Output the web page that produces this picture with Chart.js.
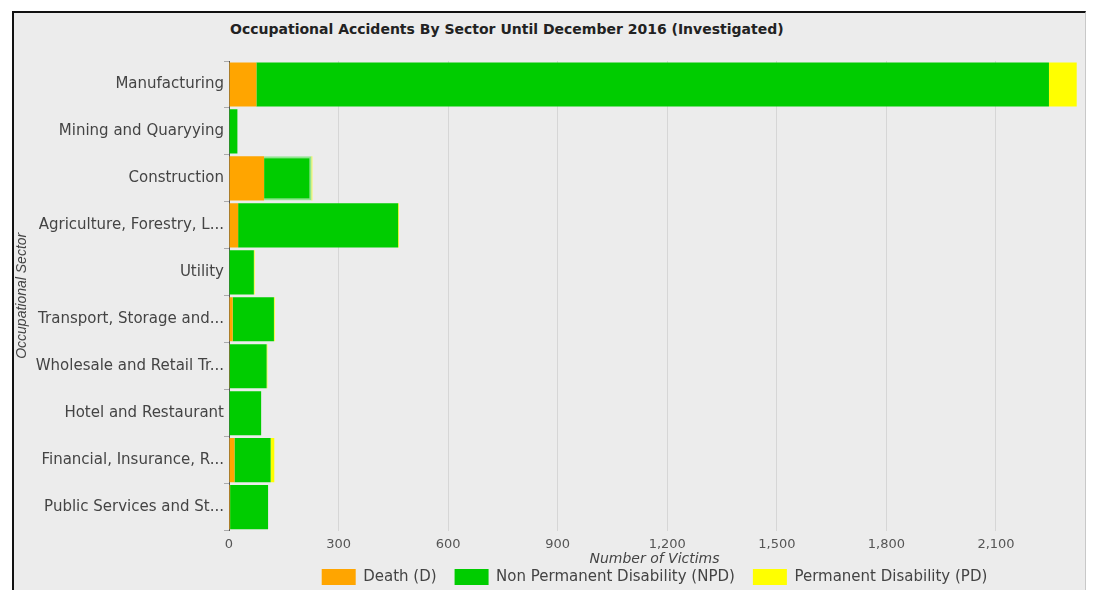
<!DOCTYPE html>
<html>
<head>
<meta charset="utf-8">
<script src="https://cdn.jsdelivr.net/npm/chart.js@4.4.1/dist/chart.umd.min.js"></script>
<style>
    html, body { margin: 0; padding: 0; background: #fff; }
    #frame {
        position: absolute; left: 12px; top: 11px; width: 1074px; height: 590px;
        background: #ececec; border-top: 2px solid #111; border-left: 2px solid #111;
        border-right: 1px solid #c8c8c8; box-sizing: border-box;
    }
    #title {
        position: absolute; left: 230px; top: 21px;
        font: bold 14px "DejaVu Sans", sans-serif; color: #222;
    }
    #wrap { position: absolute; left: 0; top: 0; width: 1094px; height: 590px; }
</style>
</head>
<body>
<div id="frame"></div>
<div id="title">Occupational Accidents By Sector Until December 2016 (Investigated)</div>
<div id="wrap"><canvas id="accidents-chart" width="1094" height="590"></canvas></div>
<script>
const sectors = [
    'Manufacturing', 'Mining and Quaryying', 'Construction', 'Agriculture, Forestry, L...',
    'Utility', 'Transport, Storage and...', 'Wholesale and Retail Tr...', 'Hotel and Restaurant',
    'Financial, Insurance, R...', 'Public Services and St...'
];
const deaths = [75, 0, 96, 25, 0, 10, 2, 0, 15, 3];
const nonPermanent = [2170, 23, 130, 438, 68, 113, 101, 88, 99, 104];
const permanent = [76, 0, 2, 2, 2, 2, 2, 0, 10, 0];
const xTicks = [0, 300, 600, 900, 1200, 1500, 1800, 2100];
const xMax = 2330;

// the source picture is stretched sideways, DejaVu is a bit wider than Arial
const wide = '"DejaVu Sans", sans-serif';
const narrow = '"Liberation Sans", Arial, sans-serif';

const ctx = document.getElementById('accidents-chart').getContext('2d');
const accidentsChart = new Chart(ctx, {
    type: 'bar',
    data: {
        labels: sectors,
        datasets: [{
            label: 'Death (D)',
            data: deaths,
            backgroundColor: '#ffa500'
        }, {
            label: 'Non Permanent Disability (NPD)',
            data: nonPermanent,
            backgroundColor: '#00cc00',
            borderColor: sectors.map((s, i) => i === 2 ? '#8fe68f' : '#00cc00'),
            borderWidth: sectors.map((s, i) => i === 2 ? 2 : 0)
        }, {
            label: 'Permanent Disability (PD)',
            data: permanent,
            backgroundColor: '#ffff00'
        }]
    },
    options: {
        indexAxis: 'y',
        responsive: false,
        animation: false,
        categoryPercentage: 1,
        barPercentage: 0.94,
        layout: { padding: { top: 61, left: 14, right: 14, bottom: -5 } },
        scales: {
            x: {
                stacked: true,
                min: 0,
                max: xMax,
                afterBuildTicks: (scale) => {
                    scale.ticks = xTicks.map(v => ({ value: v }));
                },
                ticks: { padding: 6, color: '#555', font: { family: wide, size: 13 } },
                grid: { color: '#d6d6d6', drawTicks: false },
                border: { display: false },
                title: {
                    display: true,
                    text: 'Number of Victims',
                    color: '#444',
                    font: { family: wide, size: 14, style: 'italic' },
                    padding: { top: -7, bottom: -17 }
                }
            },
            y: {
                stacked: true,
                afterFit: (scale) => { scale.width = 215; },
                ticks: { padding: 0, color: '#444', font: { family: wide, size: 15 } },
                grid: { offset: true, drawOnChartArea: false, tickLength: 5, color: '#aaa' },
                border: { display: true, color: '#555' },
                title: {
                    display: true,
                    text: 'Occupational Sector',
                    color: '#444',
                    font: { family: narrow, size: 14, style: 'italic' },
                    padding: 0
                }
            }
        },
        plugins: {
            legend: {
                position: 'bottom',
                fullSize: false,
                labels: {
                    boxWidth: 34,
                    boxHeight: 16,
                    padding: 18,
                    color: '#444',
                    font: { family: wide, size: 15 }
                }
            },
            tooltip: { enabled: false }
        }
    }
});
</script>
</body>
</html>
